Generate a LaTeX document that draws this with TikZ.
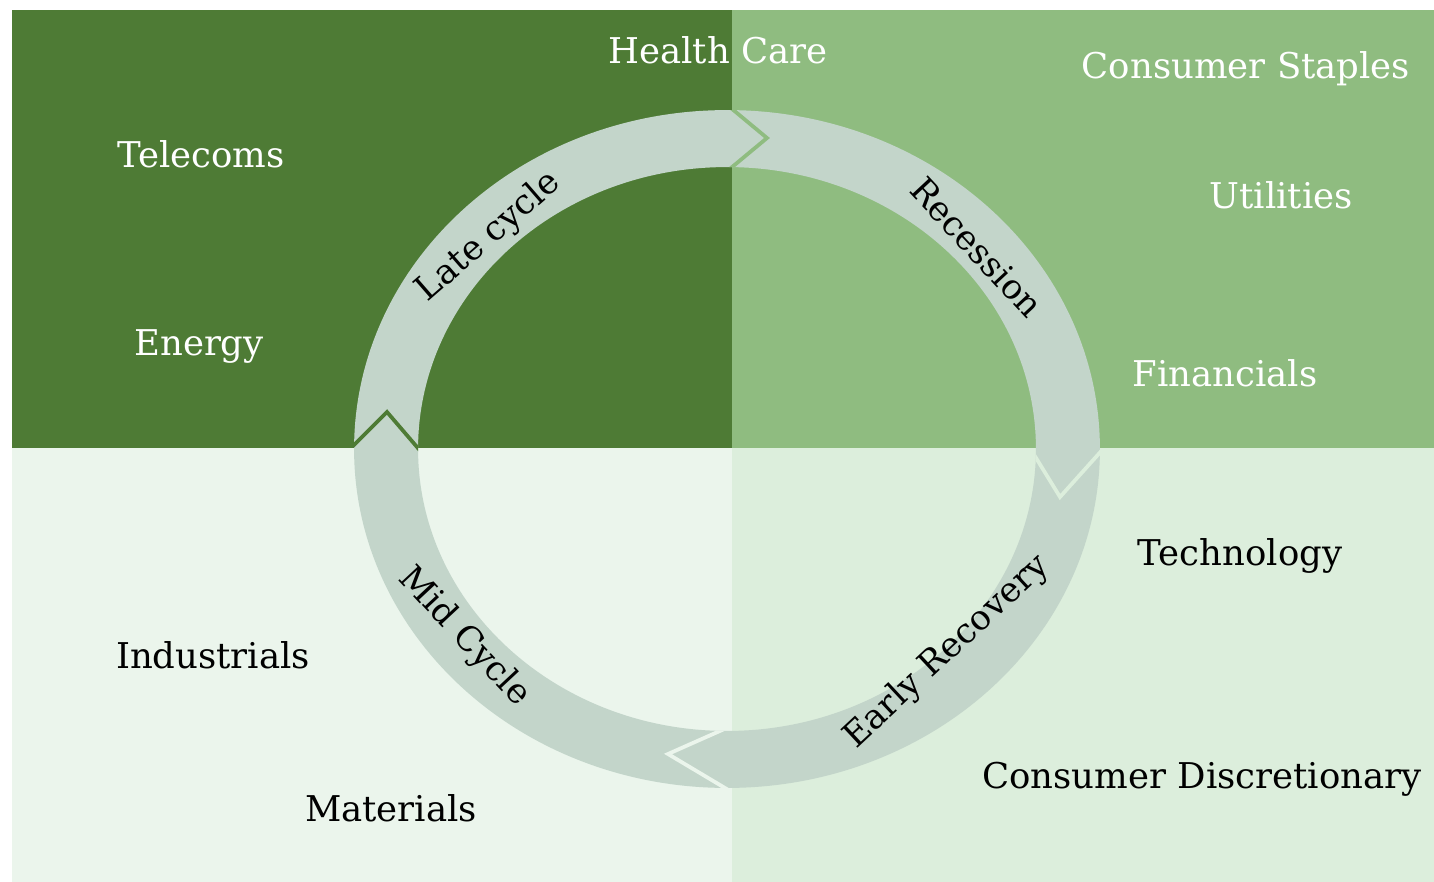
\documentclass[tikz,border=0pt]{standalone}
\usepackage{fontspec}
\newfontfamily\labelfont{DejaVu Serif}
\definecolor{lateq}{HTML}{4E7B35}
\definecolor{recq}{HTML}{8FBC80}
\definecolor{midq}{HTML}{EBF5EC}
\definecolor{earlyq}{HTML}{DCEEDC}
\definecolor{ringc}{HTML}{C3D5CA}
\begin{document}
\begin{tikzpicture}[x=0.02cm,y=-0.02cm,
  txt/.style={font=\labelfont\fontsize{20.2}{24}\selectfont, inner sep=0pt},
  sector/.style={txt, anchor=base},
  light/.style={sector, text=white},
  dark/.style={sector, text=black},
  phase/.style={font=\labelfont\fontsize{19.6}{23}\selectfont, inner sep=0pt, text=black},
  notch/.style={line width=0.075cm, line join=miter}]
\useasboundingbox (0,0) rectangle (1434,882);
\fill[white] (0,0) rectangle (1434,882);
% four quadrants of the cycle
\fill[lateq]  (12,10)   rectangle (732,448);
\fill[recq]   (732,10)  rectangle (1434,448);
\fill[midq]   (12,448)  rectangle (732,882);
\fill[earlyq] (732,448) rectangle (1434,882);
% the ring of phases
\def\ringpath{(727,449) ellipse [x radius=7.46cm, y radius=6.78cm]
               (727,449) ellipse [x radius=6.18cm, y radius=5.64cm]}
\fill[ringc, even odd rule] \ringpath;
% arrow heads between the phases
\begin{scope}[even odd rule]
  \clip \ringpath;
  \draw[recq, notch]   (728.5,106) -- (767,138) -- (728.5,170);
  \draw[earlyq, notch] (1104,448) -- (1060,497) -- (1030.3,448.6);
  \draw[midq, notch]   (725,728.7) -- (668,754) -- (730.7,791.4);
  \draw[lateq, notch]  (348.5,450.5) -- (387,412) -- (420,450.5);
\end{scope}
% phase labels
\node[phase, rotate=41]  (late)  at (489,237) {Late cycle};
\node[phase, rotate=-47] (rec)   at (977,247) {Recession};
\node[phase, rotate=43]  (early) at (947,652) {Early Recovery};
\node[phase, rotate=-47] (mid)   at (464,637) {Mid Cycle};
% sectors
\node[light] (hc)  at (718,64)   {Health Care};
\node[light] (cs)  at (1246,79)  {Consumer Staples};
\node[light] (tel) at (201,168)  {Telecoms};
\node[light] (utl) at (1281,208) {Utilities};
\node[light] (eng) at (199,355)  {Energy};
\node[light] (fin) at (1225,386) {Financials};
\node[dark]  (tec) at (1240,565) {Technology};
\node[dark]  (ind) at (213,668)  {Industrials};
\node[dark]  (cd)  at (1202,788) {Consumer Discretionary};
\node[dark]  (mat) at (391,821)  {Materials};
\end{tikzpicture}
\end{document}
